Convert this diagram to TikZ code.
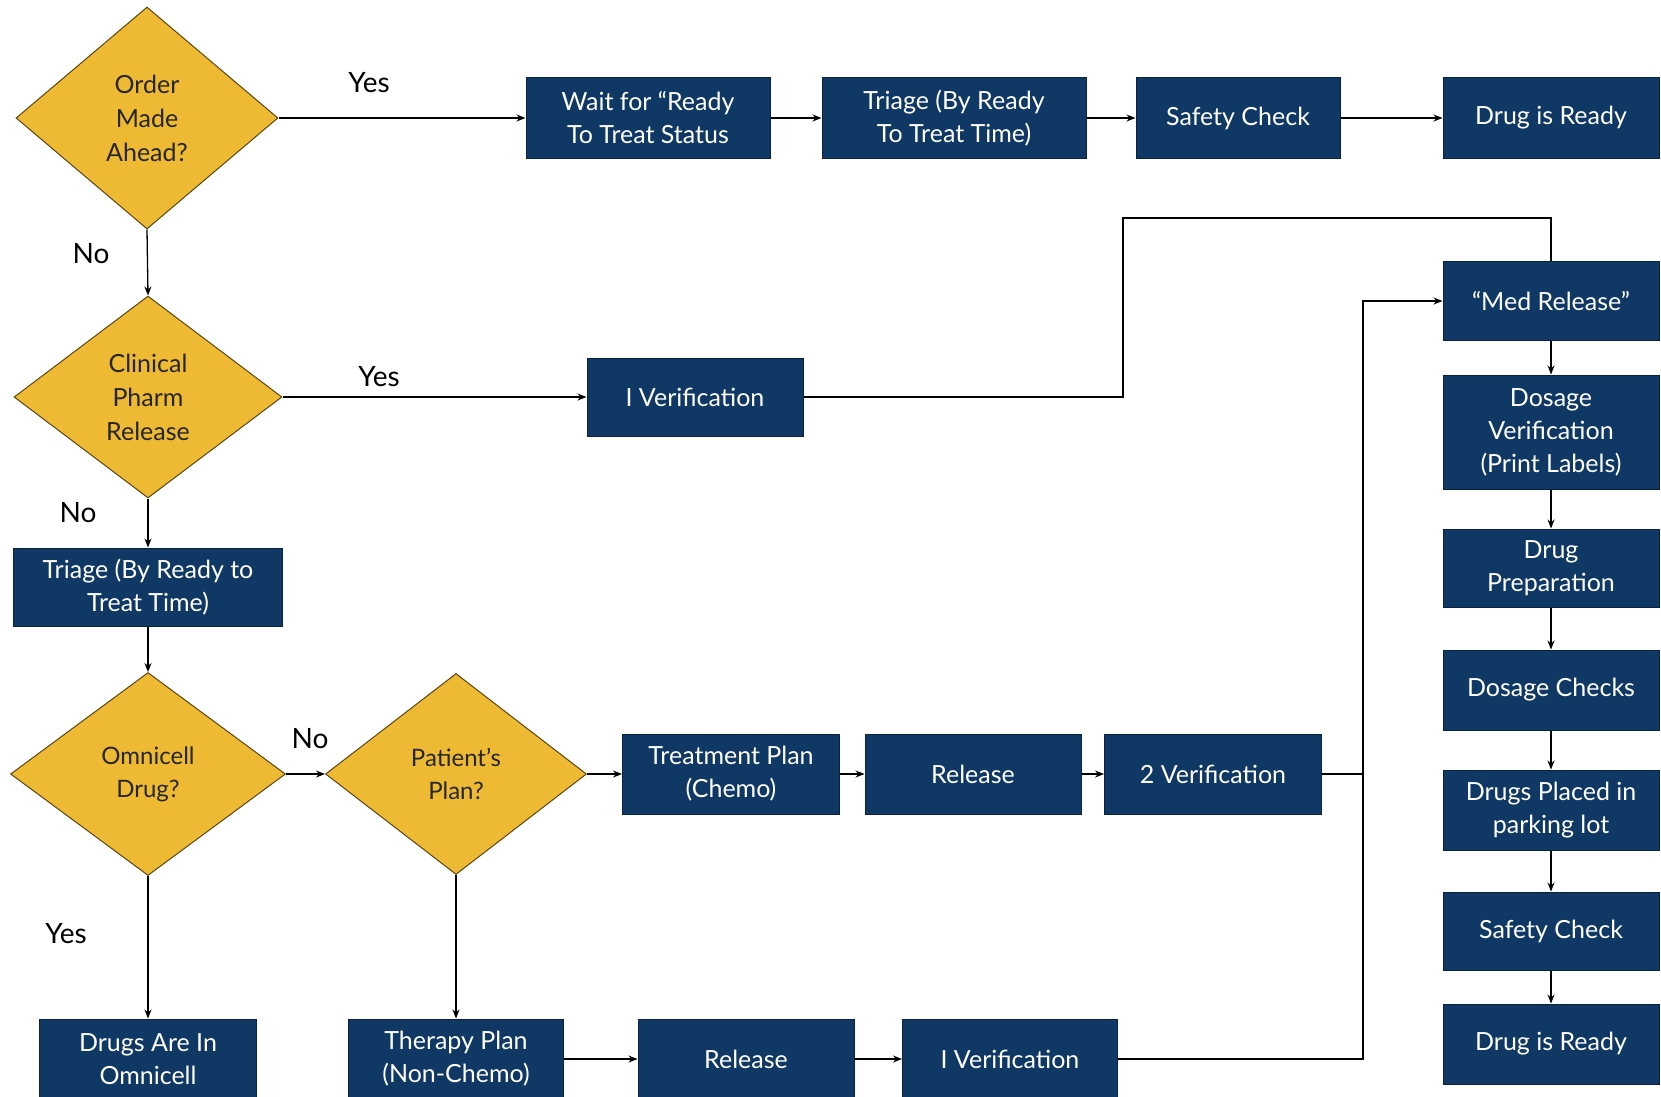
\documentclass[tikz,border=0pt]{standalone}
\usepackage{fontspec}
\setmainfont{Lato}
\usetikzlibrary{shapes.geometric,arrows.meta}
\definecolor{navy}{RGB}{16,56,100}
\definecolor{navyedge}{RGB}{10,35,65}
\definecolor{gold}{RGB}{238,186,52}
\definecolor{goldedge}{RGB}{90,70,20}
\tikzset{
  box/.style={rectangle,fill=navy,draw=navyedge,line width=1pt,text=white,align=center,inner sep=0pt,
    font=\fontsize{25}{33}\selectfont},
  dec/.style={diamond,fill=gold,draw=goldedge,line width=1pt,text=black!85,align=center,inner sep=0pt,aspect=1.2,
    font=\fontsize{25}{34}\selectfont},
  lbl/.style={font=\fontsize{28}{32}\selectfont,text=black},
  arr/.style={line width=1.3pt,-{Stealth[length=9pt,width=7pt]}},
  ln/.style={line width=1.3pt}
}
\begin{document}
\begin{tikzpicture}[x=1pt,y=-1pt]
\useasboundingbox[fill=white] (0,0) rectangle (1661,1096);
% decisions
\node[dec,minimum width=262pt,minimum height=222pt] (d1) at (147,118) {Order\\Made\\Ahead?};
\node[dec,minimum width=268pt,minimum height=202pt] (d2) at (148,397) {Clinical\\Pharm\\Release};
\node[dec,minimum width=275pt,minimum height=203pt,font=\fontsize{24}{33}\selectfont] (d3) at (148,774) {Omnicell\\Drug?};
\node[dec,minimum width=261pt,minimum height=201pt,font=\fontsize{24}{33}\selectfont] (d4) at (456,774) {Patient’s\\Plan?};
% row 1
\node[box,minimum width=244pt,minimum height=81pt] (wait) at (648,118) {Wait for “Ready\\To Treat Status};
\node[box,minimum width=264pt,minimum height=81pt] (tri1) at (954,118) {Triage (By Ready\\To Treat Time)};
\node[box,minimum width=204pt,minimum height=81pt] (saf1) at (1238,118) {Safety Check};
\node[box,minimum width=216pt,minimum height=81pt] (rdy1) at (1551,118) {Drug is Ready};
% row 2
\node[box,minimum width=216pt,minimum height=78pt] (ver1) at (695,397) {I Verification};
\node[box,minimum width=269pt,minimum height=78pt] (tri2) at (148,587) {Triage (By Ready to\\Treat Time)};
% row 3
\node[box,minimum width=217pt,minimum height=80pt] (treat) at (731,774) {Treatment Plan\\(Chemo)};
\node[box,minimum width=216pt,minimum height=80pt] (rel1) at (973,774) {Release};
\node[box,minimum width=217pt,minimum height=80pt] (ver2) at (1213,774) {2 Verification};
% row 4
\node[box,minimum width=217pt,minimum height=80pt] (omni) at (148,1059) {Drugs Are In\\Omnicell};
\node[box,minimum width=215pt,minimum height=80pt] (ther) at (456,1059) {Therapy Plan\\(Non-Chemo)};
\node[box,minimum width=216pt,minimum height=80pt] (rel2) at (746,1059) {Release};
\node[box,minimum width=215pt,minimum height=80pt] (ver3) at (1010,1059) {I Verification};
% right column
\node[box,minimum width=216pt,minimum height=79pt] (med) at (1551,301) {“Med Release”};
\node[box,minimum width=216pt,minimum height=114pt] (dosv) at (1551,432) {Dosage\\Verification\\(Print Labels)};
\node[box,minimum width=216pt,minimum height=78pt] (prep) at (1551,568) {Drug\\Preparation};
\node[box,minimum width=216pt,minimum height=80pt] (chk) at (1551,690) {Dosage Checks};
\node[box,minimum width=216pt,minimum height=80pt] (plc) at (1551,810) {Drugs Placed in\\parking lot};
\node[box,minimum width=216pt,minimum height=78pt] (saf2) at (1551,931) {Safety Check};
\node[box,minimum width=216pt,minimum height=80pt] (rdy2) at (1551,1044) {Drug is Ready};
% labels
\node[lbl] (y1) at (369,83) {Yes};
\node[lbl] (n1) at (91,254) {No};
\node[lbl] (y2) at (379,377) {Yes};
\node[lbl] (n2) at (78,513) {No};
\node[lbl] (n3) at (310,739) {No};
\node[lbl] (y3) at (66,934) {Yes};
% connectors
\draw[arr] (d1.east) -- (wait.west);
\draw[arr] (wait.east) -- (tri1.west);
\draw[arr] (tri1.east) -- (saf1.west);
\draw[arr] (saf1.east) -- (rdy1.west);
\draw[arr] (d1.south) -- (d2.north);
\draw[arr] (d2.east) -- (ver1.west);
\draw[arr] (d2.south) -- (tri2.north);
\draw[arr] (tri2.south) -- (d3.north);
\draw[arr] (d3.east) -- (d4.west);
\draw[arr] (d4.east) -- (treat.west);
\draw[arr] (treat.east) -- (rel1.west);
\draw[arr] (rel1.east) -- (ver2.west);
\draw[arr] (d3.south) -- (omni.north);
\draw[arr] (d4.south) -- (ther.north);
\draw[arr] (ther.east) -- (rel2.west);
\draw[arr] (rel2.east) -- (ver3.west);
\coordinate (k1) at (1123,218);
\draw[ln] (ver1.east) -| (k1) -| (med.north);
\coordinate (jt) at (1363,301);
\draw[arr] (ver3.east) -| (jt) -- (med.west);
\draw[ln] (ver2.east) -- (ver2.east -| jt);
\draw[arr] (med.south) -- (dosv.north);
\draw[arr] (dosv.south) -- (prep.north);
\draw[arr] (prep.south) -- (chk.north);
\draw[arr] (chk.south) -- (plc.north);
\draw[arr] (plc.south) -- (saf2.north);
\draw[arr] (saf2.south) -- (rdy2.north);
\end{tikzpicture}
\end{document}
